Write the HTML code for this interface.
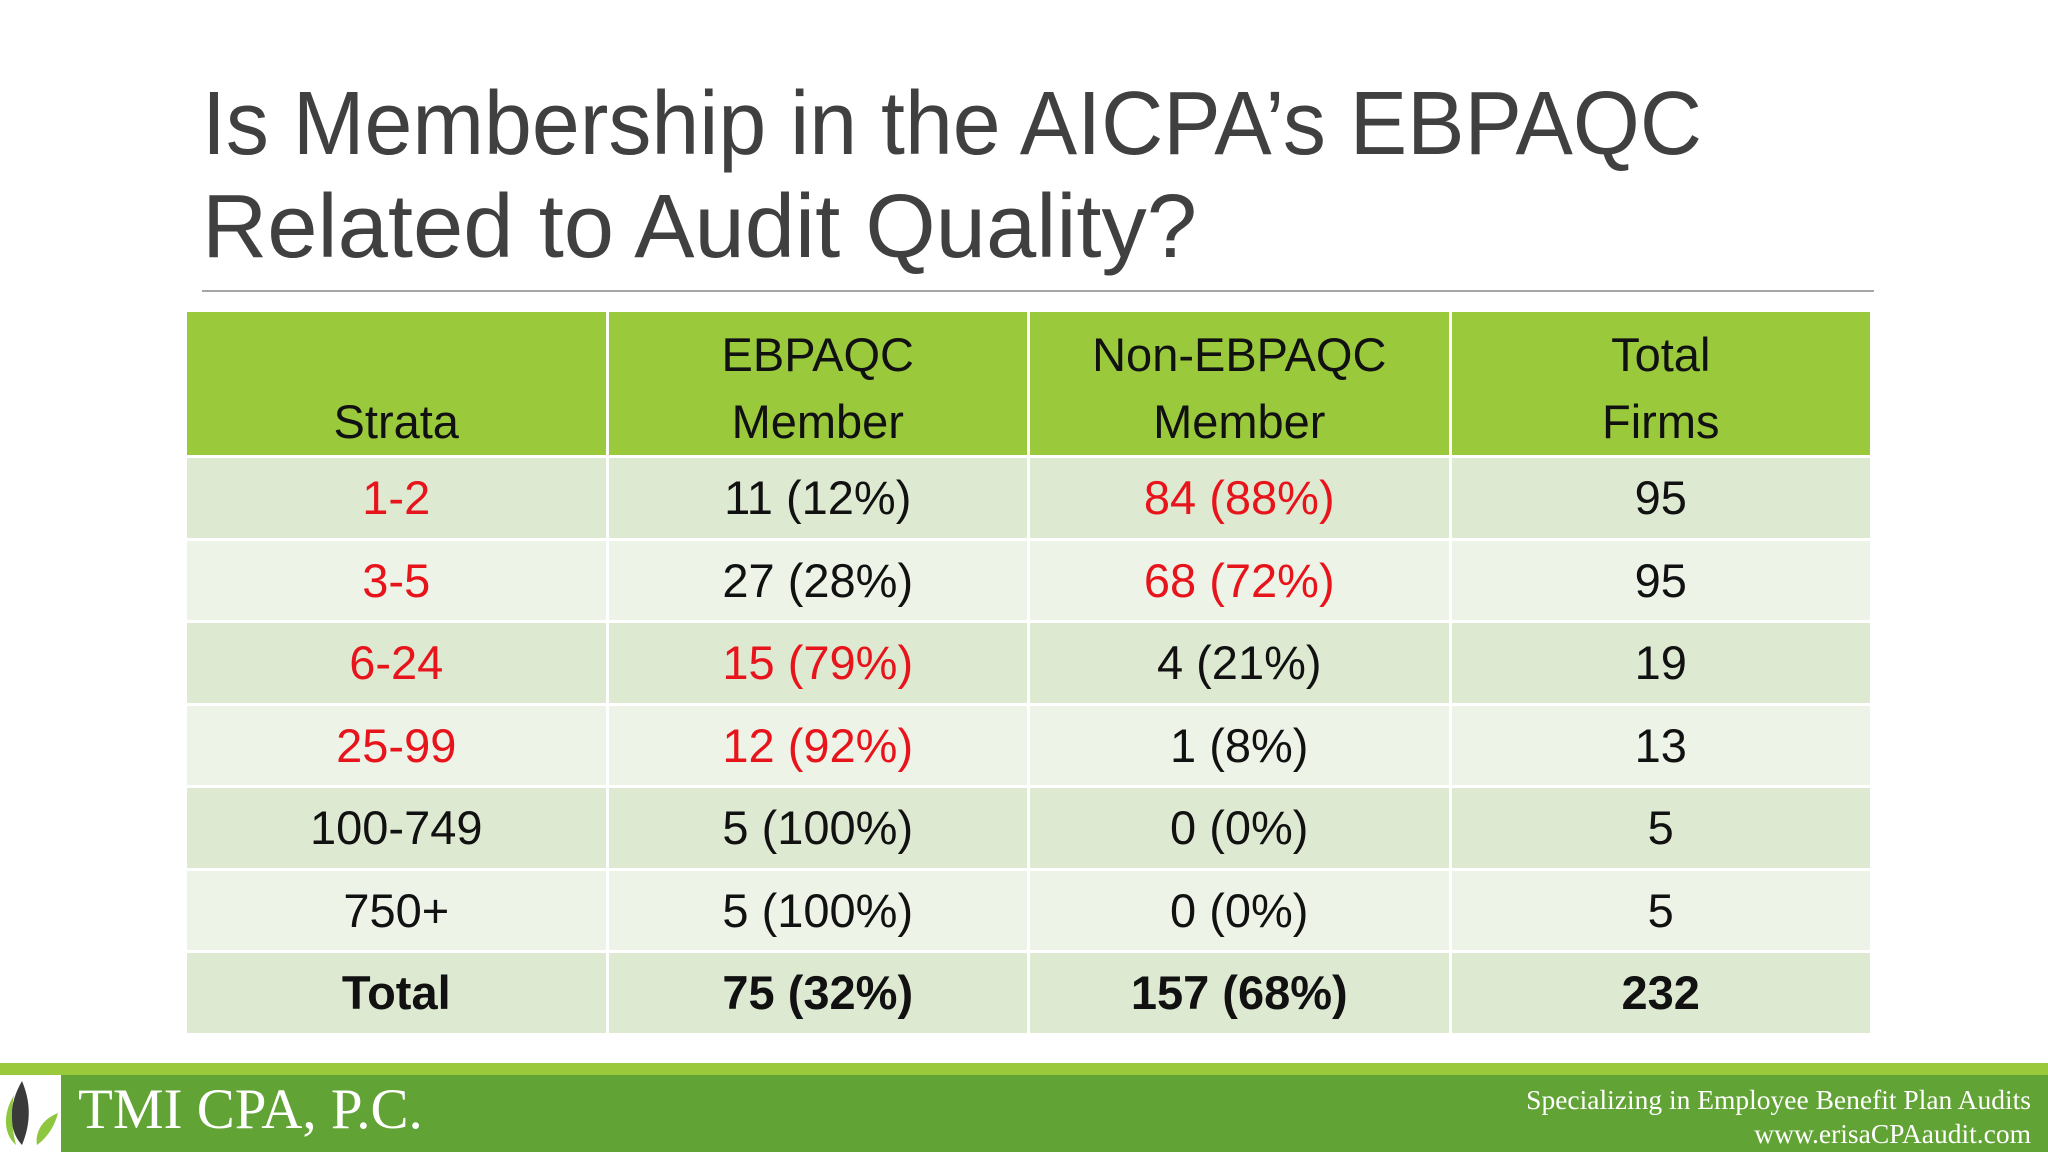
<!DOCTYPE html>
<html><head><meta charset="utf-8"><style>
body{margin:0;width:2048px;height:1152px;background:#fff;position:relative;overflow:hidden;font-family:"Liberation Sans",sans-serif}
#tbl{position:absolute;left:184px;top:309px;width:1689px;border-collapse:collapse;table-layout:fixed}
#tbl td,#tbl th{border:3px solid #fff;text-align:center;font-size:47px;padding:0;color:#111}
#tbl th{background:#9ACA3C;font-weight:normal;height:143px;vertical-align:bottom;line-height:67px;padding-bottom:0}
#tbl td{height:79.5px}
#tbl tr.o td{background:#DEE9D2}
#tbl tr.e td{background:#EEF3E8}
#tbl .r{color:#E8141B}
#tbl tr.t td{font-weight:bold}
</style></head><body>
<svg style="position:absolute;left:0;top:0" width="2048" height="300">
<text x="202" y="154" font-size="90" fill="#404040" textLength="1500" lengthAdjust="spacingAndGlyphs" font-family="Liberation Sans, sans-serif">Is Membership in the AICPA’s EBPAQC</text>
<text x="202" y="257" font-size="90" fill="#404040" textLength="995" lengthAdjust="spacingAndGlyphs" font-family="Liberation Sans, sans-serif">Related to Audit Quality?</text>
<rect x="202" y="290" width="1672" height="2" fill="#A6A6A6"/>
</svg>
<table id="tbl">
<tr><th>Strata</th><th>EBPAQC<br>Member</th><th>Non-EBPAQC<br>Member</th><th>Total<br>Firms</th></tr>
<tr class="o"><td class="r">1-2</td><td>11 (12%)</td><td class="r">84 (88%)</td><td>95</td></tr>
<tr class="e"><td class="r">3-5</td><td>27 (28%)</td><td class="r">68 (72%)</td><td>95</td></tr>
<tr class="o"><td class="r">6-24</td><td class="r">15 (79%)</td><td>4 (21%)</td><td>19</td></tr>
<tr class="e"><td class="r">25-99</td><td class="r">12 (92%)</td><td>1 (8%)</td><td>13</td></tr>
<tr class="o"><td>100-749</td><td>5 (100%)</td><td>0 (0%)</td><td>5</td></tr>
<tr class="e"><td>750+</td><td>5 (100%)</td><td>0 (0%)</td><td>5</td></tr>
<tr class="o t"><td>Total</td><td>75 (32%)</td><td>157 (68%)</td><td>232</td></tr>
</table>
<div style="position:absolute;left:0;top:1063px;width:2048px;height:89px;background:#62A335">
<div style="position:absolute;left:0;top:0;width:2048px;height:12px;background:#9ACA3C"></div>
<div style="position:absolute;left:0;top:12px;width:61px;height:77px;background:#fff">
<svg width="61" height="77"><path d="M22 6 C8 30 8 55 22 70 C30 50 32 30 22 6Z" fill="#3a3a3a"/><path d="M14 20 C2 40 4 60 16 70 C11 50 11 35 14 20Z" fill="#8DC63F"/><path d="M58 38 C40 45 35 60 37 70 C48 62 55 50 58 38Z" fill="#8DC63F"/></svg></div>
<div style="position:absolute;left:78px;top:16px;font-family:'Liberation Serif',serif;font-size:57px;color:#fff;line-height:62px">TMI CPA, P.C.</div>
<div style="position:absolute;right:17px;top:20px;font-family:'Liberation Serif',serif;font-size:27.5px;color:#fff;line-height:34px;text-align:right">Specializing in Employee Benefit Plan Audits<br>www.erisaCPAaudit.com</div>
</div>
</body></html>
